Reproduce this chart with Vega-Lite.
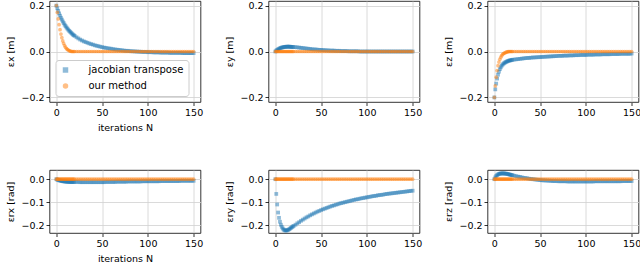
{
  "$schema": "https://vega.github.io/schema/vega-lite/v6.json",
  "padding": {"left": 5.5, "top": 0, "right": 0, "bottom": 0},
  "columns": 3,
  "spacing": {"row": 68, "column": 68},
  "bounds": "flush",
  "resolve": {"scale": {"color": "independent", "shape": "independent"}},
  "config": {
    "font": "DejaVu Sans",
    "view": {"stroke": "#000000", "strokeWidth": 0.8},
    "axis": {"grid": true, "gridColor": "#d0d0d0", "gridWidth": 0.8, "domain": false, "tickColor": "#000000", "tickSize": 3.5, "tickWidth": 0.8, "labelFontSize": 9.5, "labelColor": "#000000", "labelPadding": 2, "titleFontSize": 9.5, "titleFontWeight": "normal", "titleColor": "#000000", "titlePadding": 5},
    "point": {"filled": true, "size": 14, "opacity": 0.5, "strokeWidth": 0}
  },
  "data": {"values": [
    {"m":"jacobian transpose","n":0,"x":0.200,"y":0.000,"z":-0.200,"rx":0.000,"ry":0.000,"rz":0.000},
    {"m":"jacobian transpose","n":1,"x":0.188,"y":0.004,"z":-0.165,"rx":-0.002,"ry":-0.064,"rz":0.008},
    {"m":"jacobian transpose","n":2,"x":0.177,"y":0.007,"z":-0.140,"rx":-0.004,"ry":-0.110,"rz":0.014},
    {"m":"jacobian transpose","n":3,"x":0.166,"y":0.010,"z":-0.118,"rx":-0.005,"ry":-0.145,"rz":0.018},
    {"m":"jacobian transpose","n":4,"x":0.156,"y":0.012,"z":-0.101,"rx":-0.006,"ry":-0.168,"rz":0.021},
    {"m":"jacobian transpose","n":5,"x":0.147,"y":0.014,"z":-0.088,"rx":-0.007,"ry":-0.185,"rz":0.023},
    {"m":"jacobian transpose","n":6,"x":0.139,"y":0.016,"z":-0.077,"rx":-0.008,"ry":-0.198,"rz":0.024},
    {"m":"jacobian transpose","n":7,"x":0.131,"y":0.017,"z":-0.069,"rx":-0.009,"ry":-0.207,"rz":0.025},
    {"m":"jacobian transpose","n":8,"x":0.124,"y":0.018,"z":-0.062,"rx":-0.009,"ry":-0.214,"rz":0.025},
    {"m":"jacobian transpose","n":9,"x":0.117,"y":0.019,"z":-0.057,"rx":-0.010,"ry":-0.219,"rz":0.025},
    {"m":"jacobian transpose","n":10,"x":0.111,"y":0.020,"z":-0.053,"rx":-0.010,"ry":-0.222,"rz":0.025},
    {"m":"jacobian transpose","n":11,"x":0.105,"y":0.020,"z":-0.050,"rx":-0.011,"ry":-0.223,"rz":0.025},
    {"m":"jacobian transpose","n":12,"x":0.100,"y":0.021,"z":-0.047,"rx":-0.011,"ry":-0.223,"rz":0.024},
    {"m":"jacobian transpose","n":13,"x":0.095,"y":0.021,"z":-0.045,"rx":-0.011,"ry":-0.222,"rz":0.024},
    {"m":"jacobian transpose","n":14,"x":0.090,"y":0.021,"z":-0.043,"rx":-0.012,"ry":-0.220,"rz":0.023},
    {"m":"jacobian transpose","n":15,"x":0.086,"y":0.021,"z":-0.041,"rx":-0.012,"ry":-0.218,"rz":0.022},
    {"m":"jacobian transpose","n":16,"x":0.082,"y":0.021,"z":-0.040,"rx":-0.012,"ry":-0.215,"rz":0.021},
    {"m":"jacobian transpose","n":17,"x":0.078,"y":0.020,"z":-0.039,"rx":-0.012,"ry":-0.212,"rz":0.020},
    {"m":"jacobian transpose","n":18,"x":0.074,"y":0.020,"z":-0.038,"rx":-0.012,"ry":-0.209,"rz":0.019},
    {"m":"jacobian transpose","n":19,"x":0.071,"y":0.020,"z":-0.037,"rx":-0.012,"ry":-0.206,"rz":0.018},
    {"m":"jacobian transpose","n":20,"x":0.068,"y":0.019,"z":-0.036,"rx":-0.012,"ry":-0.203,"rz":0.017},
    {"m":"jacobian transpose","n":22,"x":0.062,"y":0.019,"z":-0.035,"rx":-0.012,"ry":-0.198,"rz":0.015},
    {"m":"jacobian transpose","n":24,"x":0.057,"y":0.018,"z":-0.034,"rx":-0.012,"ry":-0.192,"rz":0.013},
    {"m":"jacobian transpose","n":26,"x":0.052,"y":0.017,"z":-0.033,"rx":-0.013,"ry":-0.187,"rz":0.011},
    {"m":"jacobian transpose","n":28,"x":0.048,"y":0.016,"z":-0.032,"rx":-0.013,"ry":-0.181,"rz":0.010},
    {"m":"jacobian transpose","n":30,"x":0.044,"y":0.015,"z":-0.031,"rx":-0.013,"ry":-0.176,"rz":0.008},
    {"m":"jacobian transpose","n":32,"x":0.041,"y":0.014,"z":-0.030,"rx":-0.013,"ry":-0.171,"rz":0.006},
    {"m":"jacobian transpose","n":34,"x":0.038,"y":0.013,"z":-0.029,"rx":-0.013,"ry":-0.166,"rz":0.005},
    {"m":"jacobian transpose","n":36,"x":0.035,"y":0.012,"z":-0.028,"rx":-0.013,"ry":-0.162,"rz":0.004},
    {"m":"jacobian transpose","n":38,"x":0.032,"y":0.011,"z":-0.028,"rx":-0.013,"ry":-0.157,"rz":0.002},
    {"m":"jacobian transpose","n":40,"x":0.030,"y":0.010,"z":-0.027,"rx":-0.013,"ry":-0.153,"rz":0.001},
    {"m":"jacobian transpose","n":42,"x":0.027,"y":0.009,"z":-0.026,"rx":-0.013,"ry":-0.149,"rz":0.000},
    {"m":"jacobian transpose","n":44,"x":0.025,"y":0.009,"z":-0.026,"rx":-0.013,"ry":-0.145,"rz":-0.001},
    {"m":"jacobian transpose","n":46,"x":0.023,"y":0.008,"z":-0.025,"rx":-0.013,"ry":-0.141,"rz":-0.002},
    {"m":"jacobian transpose","n":48,"x":0.021,"y":0.007,"z":-0.025,"rx":-0.013,"ry":-0.138,"rz":-0.003},
    {"m":"jacobian transpose","n":50,"x":0.019,"y":0.007,"z":-0.024,"rx":-0.013,"ry":-0.134,"rz":-0.004},
    {"m":"jacobian transpose","n":52,"x":0.017,"y":0.006,"z":-0.024,"rx":-0.013,"ry":-0.131,"rz":-0.005},
    {"m":"jacobian transpose","n":54,"x":0.016,"y":0.006,"z":-0.023,"rx":-0.012,"ry":-0.128,"rz":-0.005},
    {"m":"jacobian transpose","n":56,"x":0.014,"y":0.005,"z":-0.023,"rx":-0.012,"ry":-0.125,"rz":-0.006},
    {"m":"jacobian transpose","n":58,"x":0.013,"y":0.005,"z":-0.022,"rx":-0.012,"ry":-0.122,"rz":-0.006},
    {"m":"jacobian transpose","n":60,"x":0.012,"y":0.004,"z":-0.022,"rx":-0.012,"ry":-0.119,"rz":-0.007},
    {"m":"jacobian transpose","n":62,"x":0.010,"y":0.004,"z":-0.021,"rx":-0.012,"ry":-0.116,"rz":-0.007},
    {"m":"jacobian transpose","n":64,"x":0.009,"y":0.004,"z":-0.021,"rx":-0.012,"ry":-0.114,"rz":-0.008},
    {"m":"jacobian transpose","n":66,"x":0.008,"y":0.003,"z":-0.020,"rx":-0.011,"ry":-0.111,"rz":-0.008},
    {"m":"jacobian transpose","n":68,"x":0.007,"y":0.003,"z":-0.020,"rx":-0.011,"ry":-0.109,"rz":-0.008},
    {"m":"jacobian transpose","n":70,"x":0.006,"y":0.003,"z":-0.019,"rx":-0.011,"ry":-0.106,"rz":-0.009},
    {"m":"jacobian transpose","n":72,"x":0.005,"y":0.002,"z":-0.019,"rx":-0.011,"ry":-0.104,"rz":-0.009},
    {"m":"jacobian transpose","n":74,"x":0.004,"y":0.002,"z":-0.019,"rx":-0.011,"ry":-0.102,"rz":-0.009},
    {"m":"jacobian transpose","n":76,"x":0.003,"y":0.002,"z":-0.018,"rx":-0.011,"ry":-0.100,"rz":-0.009},
    {"m":"jacobian transpose","n":78,"x":0.003,"y":0.002,"z":-0.018,"rx":-0.010,"ry":-0.098,"rz":-0.009},
    {"m":"jacobian transpose","n":80,"x":0.002,"y":0.001,"z":-0.018,"rx":-0.010,"ry":-0.096,"rz":-0.010},
    {"m":"jacobian transpose","n":82,"x":0.001,"y":0.001,"z":-0.017,"rx":-0.010,"ry":-0.094,"rz":-0.010},
    {"m":"jacobian transpose","n":84,"x":0.001,"y":0.001,"z":-0.017,"rx":-0.010,"ry":-0.092,"rz":-0.010},
    {"m":"jacobian transpose","n":86,"x":0.000,"y":0.001,"z":-0.017,"rx":-0.010,"ry":-0.090,"rz":-0.010},
    {"m":"jacobian transpose","n":88,"x":0.000,"y":0.001,"z":-0.016,"rx":-0.010,"ry":-0.088,"rz":-0.010},
    {"m":"jacobian transpose","n":90,"x":-0.001,"y":0.001,"z":-0.016,"rx":-0.010,"ry":-0.087,"rz":-0.010},
    {"m":"jacobian transpose","n":92,"x":-0.001,"y":0.000,"z":-0.016,"rx":-0.010,"ry":-0.085,"rz":-0.010},
    {"m":"jacobian transpose","n":94,"x":-0.002,"y":0.000,"z":-0.015,"rx":-0.009,"ry":-0.083,"rz":-0.010},
    {"m":"jacobian transpose","n":96,"x":-0.002,"y":0.000,"z":-0.015,"rx":-0.009,"ry":-0.082,"rz":-0.010},
    {"m":"jacobian transpose","n":98,"x":-0.002,"y":0.000,"z":-0.015,"rx":-0.009,"ry":-0.080,"rz":-0.010},
    {"m":"jacobian transpose","n":100,"x":-0.003,"y":0.000,"z":-0.015,"rx":-0.009,"ry":-0.079,"rz":-0.010},
    {"m":"jacobian transpose","n":102,"x":-0.003,"y":0.000,"z":-0.014,"rx":-0.009,"ry":-0.077,"rz":-0.010},
    {"m":"jacobian transpose","n":104,"x":-0.003,"y":0.000,"z":-0.014,"rx":-0.009,"ry":-0.076,"rz":-0.010},
    {"m":"jacobian transpose","n":106,"x":-0.004,"y":0.000,"z":-0.014,"rx":-0.009,"ry":-0.074,"rz":-0.010},
    {"m":"jacobian transpose","n":108,"x":-0.004,"y":0.000,"z":-0.014,"rx":-0.009,"ry":-0.073,"rz":-0.010},
    {"m":"jacobian transpose","n":110,"x":-0.004,"y":0.000,"z":-0.013,"rx":-0.009,"ry":-0.072,"rz":-0.009},
    {"m":"jacobian transpose","n":112,"x":-0.004,"y":0.000,"z":-0.013,"rx":-0.009,"ry":-0.070,"rz":-0.009},
    {"m":"jacobian transpose","n":114,"x":-0.005,"y":0.000,"z":-0.013,"rx":-0.008,"ry":-0.069,"rz":-0.009},
    {"m":"jacobian transpose","n":116,"x":-0.005,"y":0.000,"z":-0.013,"rx":-0.008,"ry":-0.068,"rz":-0.009},
    {"m":"jacobian transpose","n":118,"x":-0.005,"y":0.000,"z":-0.012,"rx":-0.008,"ry":-0.067,"rz":-0.009},
    {"m":"jacobian transpose","n":120,"x":-0.005,"y":0.000,"z":-0.012,"rx":-0.008,"ry":-0.065,"rz":-0.009},
    {"m":"jacobian transpose","n":122,"x":-0.005,"y":0.000,"z":-0.012,"rx":-0.008,"ry":-0.064,"rz":-0.009},
    {"m":"jacobian transpose","n":124,"x":-0.006,"y":0.000,"z":-0.012,"rx":-0.008,"ry":-0.063,"rz":-0.009},
    {"m":"jacobian transpose","n":126,"x":-0.006,"y":0.000,"z":-0.012,"rx":-0.008,"ry":-0.062,"rz":-0.009},
    {"m":"jacobian transpose","n":128,"x":-0.006,"y":0.000,"z":-0.011,"rx":-0.008,"ry":-0.061,"rz":-0.009},
    {"m":"jacobian transpose","n":130,"x":-0.006,"y":0.000,"z":-0.011,"rx":-0.008,"ry":-0.060,"rz":-0.009},
    {"m":"jacobian transpose","n":132,"x":-0.006,"y":0.000,"z":-0.011,"rx":-0.008,"ry":-0.059,"rz":-0.009},
    {"m":"jacobian transpose","n":134,"x":-0.006,"y":0.000,"z":-0.011,"rx":-0.008,"ry":-0.058,"rz":-0.009},
    {"m":"jacobian transpose","n":136,"x":-0.006,"y":0.000,"z":-0.011,"rx":-0.007,"ry":-0.057,"rz":-0.009},
    {"m":"jacobian transpose","n":138,"x":-0.007,"y":0.000,"z":-0.010,"rx":-0.007,"ry":-0.056,"rz":-0.009},
    {"m":"jacobian transpose","n":140,"x":-0.007,"y":0.000,"z":-0.010,"rx":-0.007,"ry":-0.055,"rz":-0.008},
    {"m":"jacobian transpose","n":142,"x":-0.007,"y":0.000,"z":-0.010,"rx":-0.007,"ry":-0.054,"rz":-0.008},
    {"m":"jacobian transpose","n":144,"x":-0.007,"y":0.000,"z":-0.010,"rx":-0.007,"ry":-0.053,"rz":-0.008},
    {"m":"jacobian transpose","n":146,"x":-0.007,"y":0.000,"z":-0.010,"rx":-0.007,"ry":-0.052,"rz":-0.008},
    {"m":"jacobian transpose","n":148,"x":-0.007,"y":0.000,"z":-0.010,"rx":-0.007,"ry":-0.051,"rz":-0.008},
    {"m":"jacobian transpose","n":150,"x":-0.007,"y":0.000,"z":-0.009,"rx":-0.007,"ry":-0.050,"rz":-0.008},
    {"m":"our method","n":0,"x":0.200,"y":0,"z":-0.200,"rx":0,"ry":0,"rz":0},
    {"m":"our method","n":1,"x":0.170,"y":0,"z":-0.150,"rx":0,"ry":0,"rz":0},
    {"m":"our method","n":2,"x":0.142,"y":0,"z":-0.112,"rx":0,"ry":0,"rz":0},
    {"m":"our method","n":3,"x":0.117,"y":0,"z":-0.083,"rx":0,"ry":0,"rz":0},
    {"m":"our method","n":4,"x":0.095,"y":0,"z":-0.062,"rx":0,"ry":0,"rz":0},
    {"m":"our method","n":5,"x":0.076,"y":0,"z":-0.046,"rx":0,"ry":0,"rz":0},
    {"m":"our method","n":6,"x":0.060,"y":0,"z":-0.034,"rx":0,"ry":0,"rz":0},
    {"m":"our method","n":7,"x":0.046,"y":0,"z":-0.025,"rx":0,"ry":0,"rz":0},
    {"m":"our method","n":8,"x":0.035,"y":0,"z":-0.018,"rx":0,"ry":0,"rz":0},
    {"m":"our method","n":9,"x":0.026,"y":0,"z":-0.013,"rx":0,"ry":0,"rz":0},
    {"m":"our method","n":10,"x":0.019,"y":0,"z":-0.009,"rx":0,"ry":0,"rz":0},
    {"m":"our method","n":11,"x":0.013,"y":0,"z":-0.007,"rx":0,"ry":0,"rz":0},
    {"m":"our method","n":12,"x":0.009,"y":0,"z":-0.005,"rx":0,"ry":0,"rz":0},
    {"m":"our method","n":13,"x":0.006,"y":0,"z":-0.003,"rx":0,"ry":0,"rz":0},
    {"m":"our method","n":14,"x":0.004,"y":0,"z":-0.002,"rx":0,"ry":0,"rz":0},
    {"m":"our method","n":15,"x":0.002,"y":0,"z":-0.001,"rx":0,"ry":0,"rz":0},
    {"m":"our method","n":16,"x":0.001,"y":0,"z":0,"rx":0,"ry":0,"rz":0},
    {"m":"our method","n":17,"x":0,"y":0,"z":0,"rx":0,"ry":0,"rz":0},
    {"m":"our method","n":18,"x":0,"y":0,"z":0,"rx":0,"ry":0,"rz":0},
    {"m":"our method","n":19,"x":0,"y":0,"z":0,"rx":0,"ry":0,"rz":0},
    {"m":"our method","n":20,"x":0,"y":0,"z":0,"rx":0,"ry":0,"rz":0},
    {"m":"our method","n":22,"x":0,"y":0,"z":0,"rx":0,"ry":0,"rz":0},
    {"m":"our method","n":24,"x":0,"y":0,"z":0,"rx":0,"ry":0,"rz":0},
    {"m":"our method","n":26,"x":0,"y":0,"z":0,"rx":0,"ry":0,"rz":0},
    {"m":"our method","n":28,"x":0,"y":0,"z":0,"rx":0,"ry":0,"rz":0},
    {"m":"our method","n":30,"x":0,"y":0,"z":0,"rx":0,"ry":0,"rz":0},
    {"m":"our method","n":32,"x":0,"y":0,"z":0,"rx":0,"ry":0,"rz":0},
    {"m":"our method","n":34,"x":0,"y":0,"z":0,"rx":0,"ry":0,"rz":0},
    {"m":"our method","n":36,"x":0,"y":0,"z":0,"rx":0,"ry":0,"rz":0},
    {"m":"our method","n":38,"x":0,"y":0,"z":0,"rx":0,"ry":0,"rz":0},
    {"m":"our method","n":40,"x":0,"y":0,"z":0,"rx":0,"ry":0,"rz":0},
    {"m":"our method","n":42,"x":0,"y":0,"z":0,"rx":0,"ry":0,"rz":0},
    {"m":"our method","n":44,"x":0,"y":0,"z":0,"rx":0,"ry":0,"rz":0},
    {"m":"our method","n":46,"x":0,"y":0,"z":0,"rx":0,"ry":0,"rz":0},
    {"m":"our method","n":48,"x":0,"y":0,"z":0,"rx":0,"ry":0,"rz":0},
    {"m":"our method","n":50,"x":0,"y":0,"z":0,"rx":0,"ry":0,"rz":0},
    {"m":"our method","n":52,"x":0,"y":0,"z":0,"rx":0,"ry":0,"rz":0},
    {"m":"our method","n":54,"x":0,"y":0,"z":0,"rx":0,"ry":0,"rz":0},
    {"m":"our method","n":56,"x":0,"y":0,"z":0,"rx":0,"ry":0,"rz":0},
    {"m":"our method","n":58,"x":0,"y":0,"z":0,"rx":0,"ry":0,"rz":0},
    {"m":"our method","n":60,"x":0,"y":0,"z":0,"rx":0,"ry":0,"rz":0},
    {"m":"our method","n":62,"x":0,"y":0,"z":0,"rx":0,"ry":0,"rz":0},
    {"m":"our method","n":64,"x":0,"y":0,"z":0,"rx":0,"ry":0,"rz":0},
    {"m":"our method","n":66,"x":0,"y":0,"z":0,"rx":0,"ry":0,"rz":0},
    {"m":"our method","n":68,"x":0,"y":0,"z":0,"rx":0,"ry":0,"rz":0},
    {"m":"our method","n":70,"x":0,"y":0,"z":0,"rx":0,"ry":0,"rz":0},
    {"m":"our method","n":72,"x":0,"y":0,"z":0,"rx":0,"ry":0,"rz":0},
    {"m":"our method","n":74,"x":0,"y":0,"z":0,"rx":0,"ry":0,"rz":0},
    {"m":"our method","n":76,"x":0,"y":0,"z":0,"rx":0,"ry":0,"rz":0},
    {"m":"our method","n":78,"x":0,"y":0,"z":0,"rx":0,"ry":0,"rz":0},
    {"m":"our method","n":80,"x":0,"y":0,"z":0,"rx":0,"ry":0,"rz":0},
    {"m":"our method","n":82,"x":0,"y":0,"z":0,"rx":0,"ry":0,"rz":0},
    {"m":"our method","n":84,"x":0,"y":0,"z":0,"rx":0,"ry":0,"rz":0},
    {"m":"our method","n":86,"x":0,"y":0,"z":0,"rx":0,"ry":0,"rz":0},
    {"m":"our method","n":88,"x":0,"y":0,"z":0,"rx":0,"ry":0,"rz":0},
    {"m":"our method","n":90,"x":0,"y":0,"z":0,"rx":0,"ry":0,"rz":0},
    {"m":"our method","n":92,"x":0,"y":0,"z":0,"rx":0,"ry":0,"rz":0},
    {"m":"our method","n":94,"x":0,"y":0,"z":0,"rx":0,"ry":0,"rz":0},
    {"m":"our method","n":96,"x":0,"y":0,"z":0,"rx":0,"ry":0,"rz":0},
    {"m":"our method","n":98,"x":0,"y":0,"z":0,"rx":0,"ry":0,"rz":0},
    {"m":"our method","n":100,"x":0,"y":0,"z":0,"rx":0,"ry":0,"rz":0},
    {"m":"our method","n":102,"x":0,"y":0,"z":0,"rx":0,"ry":0,"rz":0},
    {"m":"our method","n":104,"x":0,"y":0,"z":0,"rx":0,"ry":0,"rz":0},
    {"m":"our method","n":106,"x":0,"y":0,"z":0,"rx":0,"ry":0,"rz":0},
    {"m":"our method","n":108,"x":0,"y":0,"z":0,"rx":0,"ry":0,"rz":0},
    {"m":"our method","n":110,"x":0,"y":0,"z":0,"rx":0,"ry":0,"rz":0},
    {"m":"our method","n":112,"x":0,"y":0,"z":0,"rx":0,"ry":0,"rz":0},
    {"m":"our method","n":114,"x":0,"y":0,"z":0,"rx":0,"ry":0,"rz":0},
    {"m":"our method","n":116,"x":0,"y":0,"z":0,"rx":0,"ry":0,"rz":0},
    {"m":"our method","n":118,"x":0,"y":0,"z":0,"rx":0,"ry":0,"rz":0},
    {"m":"our method","n":120,"x":0,"y":0,"z":0,"rx":0,"ry":0,"rz":0},
    {"m":"our method","n":122,"x":0,"y":0,"z":0,"rx":0,"ry":0,"rz":0},
    {"m":"our method","n":124,"x":0,"y":0,"z":0,"rx":0,"ry":0,"rz":0},
    {"m":"our method","n":126,"x":0,"y":0,"z":0,"rx":0,"ry":0,"rz":0},
    {"m":"our method","n":128,"x":0,"y":0,"z":0,"rx":0,"ry":0,"rz":0},
    {"m":"our method","n":130,"x":0,"y":0,"z":0,"rx":0,"ry":0,"rz":0},
    {"m":"our method","n":132,"x":0,"y":0,"z":0,"rx":0,"ry":0,"rz":0},
    {"m":"our method","n":134,"x":0,"y":0,"z":0,"rx":0,"ry":0,"rz":0},
    {"m":"our method","n":136,"x":0,"y":0,"z":0,"rx":0,"ry":0,"rz":0},
    {"m":"our method","n":138,"x":0,"y":0,"z":0,"rx":0,"ry":0,"rz":0},
    {"m":"our method","n":140,"x":0,"y":0,"z":0,"rx":0,"ry":0,"rz":0},
    {"m":"our method","n":142,"x":0,"y":0,"z":0,"rx":0,"ry":0,"rz":0},
    {"m":"our method","n":144,"x":0,"y":0,"z":0,"rx":0,"ry":0,"rz":0},
    {"m":"our method","n":146,"x":0,"y":0,"z":0,"rx":0,"ry":0,"rz":0},
    {"m":"our method","n":148,"x":0,"y":0,"z":0,"rx":0,"ry":0,"rz":0},
    {"m":"our method","n":150,"x":0,"y":0,"z":0,"rx":0,"ry":0,"rz":0}
  ]},
  "concat": [
    {
      "width": 151, "height": 101,
      "mark": "point",
      "encoding": {
        "x": {"field": "n", "type": "quantitative", "scale": {"domain": [-7.5, 157.5], "nice": false, "zero": false}, "axis": {"values": [0, 50, 100, 150], "format": "d", "title": "iterations N"}},
        "y": {"field": "x", "type": "quantitative", "scale": {"domain": [-0.22, 0.22], "nice": false, "zero": false}, "axis": {"values": [-0.2, 0, 0.2], "format": ".1f", "title": "εx [m]"}},
        "color": {"field": "m", "type": "nominal", "scale": {"domain": ["jacobian transpose", "our method"], "range": ["#1f77b4", "#ff7f0e"]}, "legend": {"title": null, "orient": "bottom-left", "offset": 6, "fillColor": "rgba(255,255,255,0.85)", "strokeColor": "#cccccc", "cornerRadius": 3, "padding": 5, "symbolSize": 30, "symbolOpacity": 0.5, "labelFontSize": 10, "labelOffset": 18, "rowPadding": 6, "labelLimit": 200}},
        "shape": {"field": "m", "type": "nominal", "scale": {"domain": ["jacobian transpose", "our method"], "range": ["square", "circle"]}, "legend": {"title": null, "orient": "bottom-left", "offset": 6, "fillColor": "rgba(255,255,255,0.85)", "strokeColor": "#cccccc", "cornerRadius": 3, "padding": 5, "symbolSize": 30, "symbolOpacity": 0.5, "labelFontSize": 10, "labelOffset": 18, "rowPadding": 6, "labelLimit": 200}}
      }
    },
    {
      "width": 151, "height": 101,
      "mark": "point",
      "encoding": {
        "x": {"field": "n", "type": "quantitative", "scale": {"domain": [-7.5, 157.5], "nice": false, "zero": false}, "axis": {"values": [0, 50, 100, 150], "format": "d", "title": null}},
        "y": {"field": "y", "type": "quantitative", "scale": {"domain": [-0.22, 0.22], "nice": false, "zero": false}, "axis": {"values": [-0.2, 0, 0.2], "format": ".1f", "title": "εy [m]"}},
        "color": {"field": "m", "type": "nominal", "scale": {"domain": ["jacobian transpose", "our method"], "range": ["#1f77b4", "#ff7f0e"]}, "legend": null},
        "shape": {"field": "m", "type": "nominal", "scale": {"domain": ["jacobian transpose", "our method"], "range": ["square", "circle"]}, "legend": null}
      }
    },
    {
      "width": 151, "height": 101,
      "mark": "point",
      "encoding": {
        "x": {"field": "n", "type": "quantitative", "scale": {"domain": [-7.5, 157.5], "nice": false, "zero": false}, "axis": {"values": [0, 50, 100, 150], "format": "d", "title": null}},
        "y": {"field": "z", "type": "quantitative", "scale": {"domain": [-0.22, 0.22], "nice": false, "zero": false}, "axis": {"values": [-0.2, 0, 0.2], "format": ".1f", "title": "εz [m]"}},
        "color": {"field": "m", "type": "nominal", "scale": {"domain": ["jacobian transpose", "our method"], "range": ["#1f77b4", "#ff7f0e"]}, "legend": null},
        "shape": {"field": "m", "type": "nominal", "scale": {"domain": ["jacobian transpose", "our method"], "range": ["square", "circle"]}, "legend": null}
      }
    },
    {
      "width": 151, "height": 63,
      "mark": "point",
      "encoding": {
        "x": {"field": "n", "type": "quantitative", "scale": {"domain": [-7.5, 157.5], "nice": false, "zero": false}, "axis": {"values": [0, 50, 100, 150], "format": "d", "title": "iterations N"}},
        "y": {"field": "rx", "type": "quantitative", "scale": {"domain": [-0.234, 0.04], "nice": false, "zero": false}, "axis": {"values": [-0.2, -0.1, 0], "format": ".1f", "title": "εrx [rad]"}},
        "color": {"field": "m", "type": "nominal", "scale": {"domain": ["jacobian transpose", "our method"], "range": ["#1f77b4", "#ff7f0e"]}, "legend": null},
        "shape": {"field": "m", "type": "nominal", "scale": {"domain": ["jacobian transpose", "our method"], "range": ["square", "circle"]}, "legend": null}
      }
    },
    {
      "width": 151, "height": 63,
      "mark": "point",
      "encoding": {
        "x": {"field": "n", "type": "quantitative", "scale": {"domain": [-7.5, 157.5], "nice": false, "zero": false}, "axis": {"values": [0, 50, 100, 150], "format": "d", "title": null}},
        "y": {"field": "ry", "type": "quantitative", "scale": {"domain": [-0.234, 0.04], "nice": false, "zero": false}, "axis": {"values": [-0.2, -0.1, 0], "format": ".1f", "title": "εry [rad]"}},
        "color": {"field": "m", "type": "nominal", "scale": {"domain": ["jacobian transpose", "our method"], "range": ["#1f77b4", "#ff7f0e"]}, "legend": null},
        "shape": {"field": "m", "type": "nominal", "scale": {"domain": ["jacobian transpose", "our method"], "range": ["square", "circle"]}, "legend": null}
      }
    },
    {
      "width": 151, "height": 63,
      "mark": "point",
      "encoding": {
        "x": {"field": "n", "type": "quantitative", "scale": {"domain": [-7.5, 157.5], "nice": false, "zero": false}, "axis": {"values": [0, 50, 100, 150], "format": "d", "title": null}},
        "y": {"field": "rz", "type": "quantitative", "scale": {"domain": [-0.234, 0.04], "nice": false, "zero": false}, "axis": {"values": [-0.2, -0.1, 0], "format": ".1f", "title": "εrz [rad]"}},
        "color": {"field": "m", "type": "nominal", "scale": {"domain": ["jacobian transpose", "our method"], "range": ["#1f77b4", "#ff7f0e"]}, "legend": null},
        "shape": {"field": "m", "type": "nominal", "scale": {"domain": ["jacobian transpose", "our method"], "range": ["square", "circle"]}, "legend": null}
      }
    }
  ]
}
